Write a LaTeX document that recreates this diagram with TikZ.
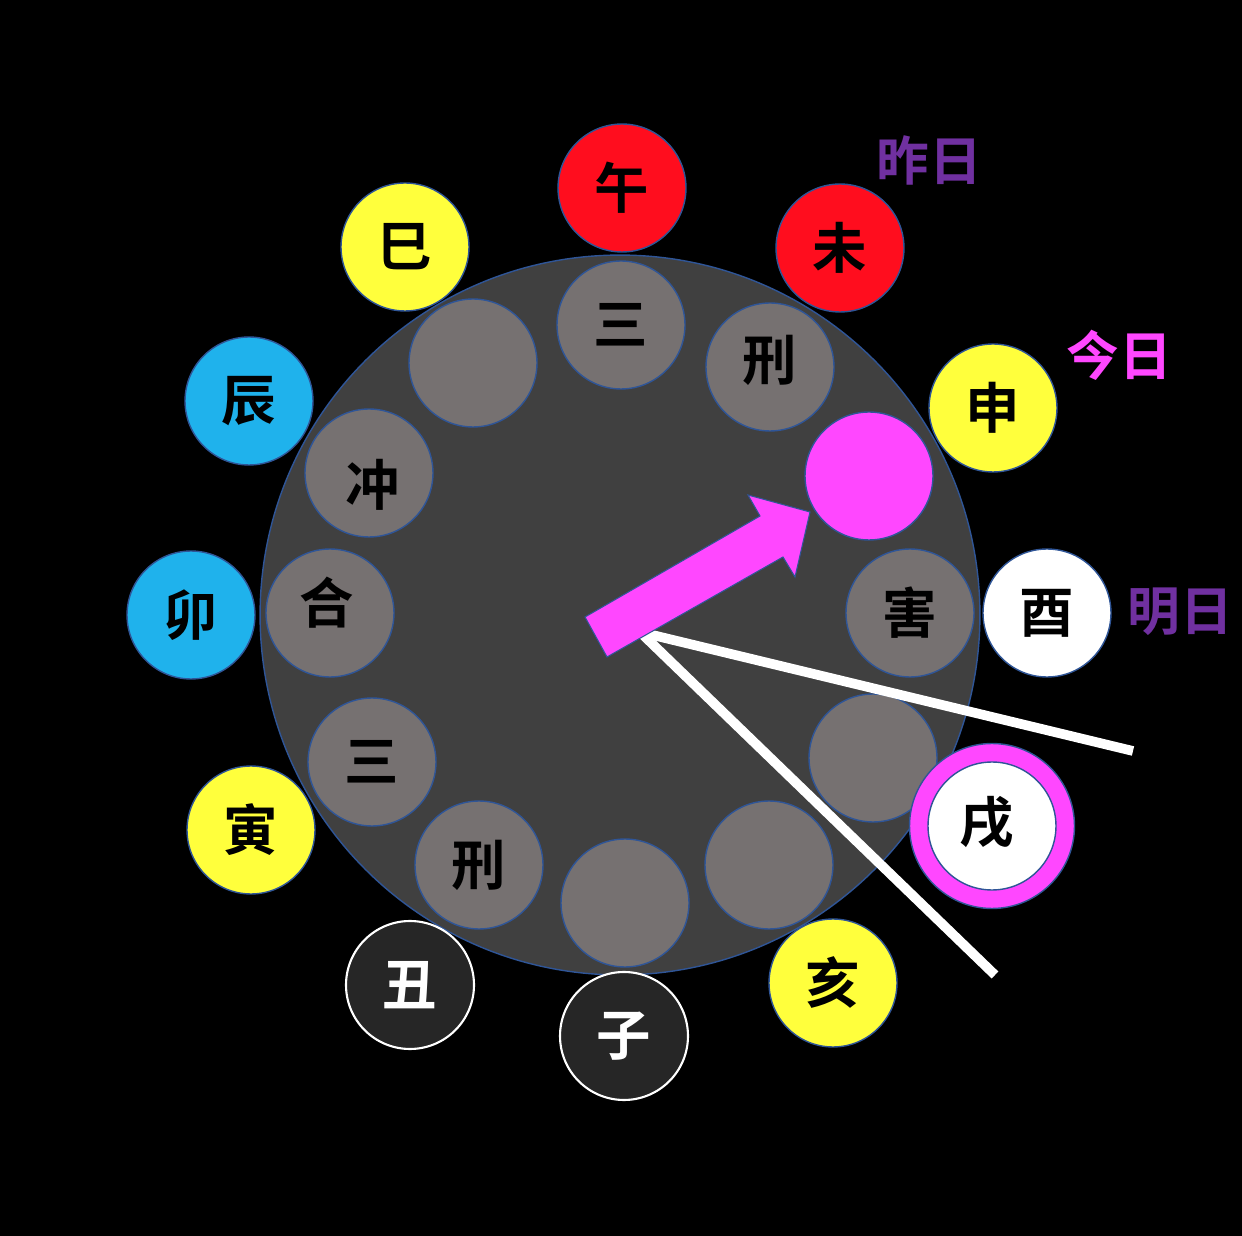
\documentclass[tikz,border=0pt]{standalone}
\usepackage{fontspec}
\setmainfont{Noto Sans CJK SC}[BoldFont={* Bold}]
\newfontfamily\cjk{Noto Sans CJK SC Bold}
\definecolor{bgc}{HTML}{000000}
\definecolor{dial}{HTML}{404040}
\definecolor{edge}{HTML}{2F5597}
\definecolor{gry}{HTML}{767171}
\definecolor{rd}{HTML}{FF0D1E}
\definecolor{yl}{HTML}{FFFF3C}
\definecolor{bl}{HTML}{1FB2EC}
\definecolor{mg}{HTML}{FF47FF}
\definecolor{pp}{HTML}{7030A0}
\definecolor{dk}{HTML}{262626}
\tikzset{
  disc/.style={circle, minimum size=2.56cm, inner sep=0pt, draw=edge, line width=0.8pt, font=\cjk\fontsize{31}{31}\selectfont},
  inner/.style={disc, fill=gry, text=black},
  lbl/.style={font=\cjk\fontsize{30}{30}\selectfont, inner sep=0pt},
  chr/.style={font=\cjk\fontsize{31}{31}\selectfont, inner sep=0pt, text=black},
}
\begin{document}
\begin{tikzpicture}[x=0.02cm,y=-0.02cm]
\useasboundingbox[fill=bgc] (0,0) rectangle (1242,1236);
% dial
\node[circle, minimum size=14.4cm, inner sep=0pt, fill=dial, draw=edge, line width=0.8pt] (dial) at (620,615) {};
% inner circles
\node[inner] (i1) at (621,325) {三};
\node[inner, label={[chr, yshift=0.14cm]center:刑}] (i2) at (770,367) {};
\node[disc, fill=mg] (i3) at (869,476) {};
\node[inner] (i4) at (910,613) {害};
\node[inner] (i5) at (873,758) {};
\node[inner] (i6) at (769,865) {};
\node[inner] (i7) at (625,903) {};
\node[inner] (i8) at (479,865) {刑};
\node[inner] (i9) at (372,762) {三};
\node[inner, label={[chr, yshift=0.2cm, xshift=-0.06cm]center:合}] (i10) at (330,613) {};
\node[inner, label={[chr, yshift=-0.24cm, xshift=0.08cm]center:冲}] (i11) at (369,473) {};
\node[inner] (i12) at (473,363) {};
% outer circles
\node[disc, fill=rd] (wu) at (622,188) {午};
\node[disc, fill=rd] (wei) at (840,248) {未};
\node[disc, fill=yl] (shen) at (993,408) {申};
\node[disc, fill=white] (you) at (1047,613) {酉};
\node[circle, minimum size=3.3cm, inner sep=0pt, fill=mg, draw=edge, line width=0.8pt] (xuring) at (992,826) {};
\node[disc, fill=white, label={[chr, yshift=0.08cm, xshift=-0.1cm]center:戌}] (xu) at (992,826) {};
\node[disc, fill=yl] (hai) at (833,983) {亥};
\node[disc, fill=dk, draw=white, text=white, line width=1.2pt] (zi) at (624,1036) {子};
\node[disc, fill=dk, draw=white, text=white, line width=1.2pt] (chou) at (410,985) {丑};
\node[disc, fill=yl] (yin) at (251,830) {寅};
\node[disc, fill=bl] (mao) at (191,615) {卯};
\node[disc, fill=bl] (chen) at (249,401) {辰};
\node[disc, fill=yl] (si) at (405,247) {巳};
% labels
\node[lbl, text=pp] (zuo) at (929,160) {昨日};
\node[lbl, text=mg] (jin) at (1119,355) {今日};
\node[lbl, text=pp] (ming) at (1180,612) {明日};
% hands
\coordinate (h0) at (640,632);
\coordinate (h1) at (1133,751);
\coordinate (h2) at (995,975);
\draw[white, line width=5.5pt] (h0) -- (h1);
\draw[white, line width=5.5pt] (h0) -- (h2);
% arrow
\fill[mg, draw=edge, line width=0.6pt] (585,617) -- (760,516) -- (748,495) -- (810,512) -- (795,577) -- (783,557) -- (607,657) -- cycle;
\end{tikzpicture}
\end{document}
